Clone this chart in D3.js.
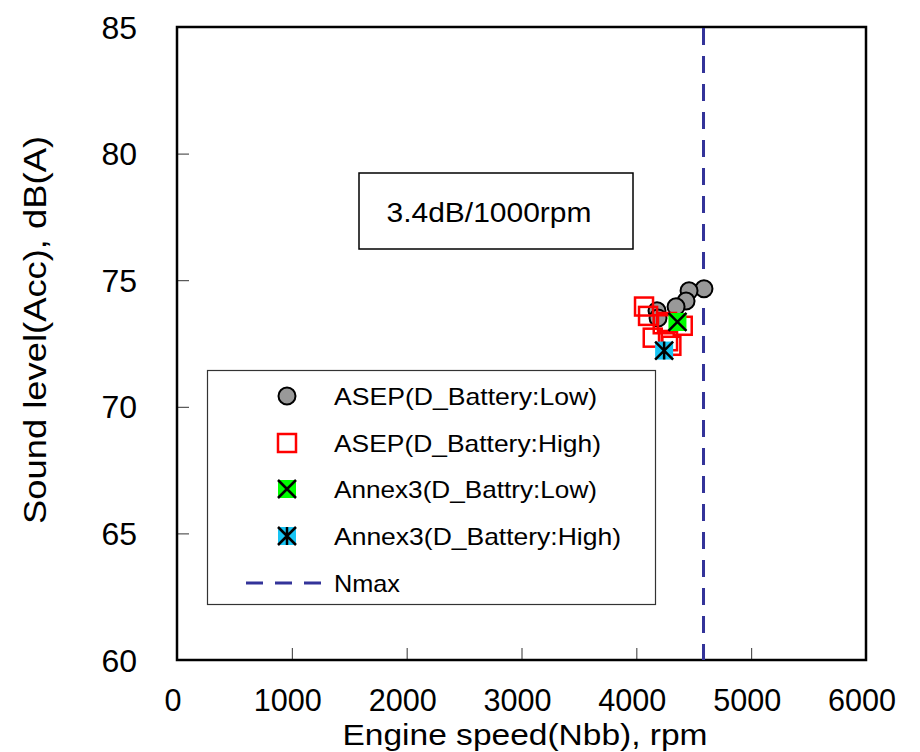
<!DOCTYPE html>
<html>
<head>
<meta charset="utf-8">
<script src="https://cdn.jsdelivr.net/npm/d3@7"></script>
<style>
  html, body { margin: 0; padding: 0; background: #fff; }
  svg { display: block; }
  text { font-family: "Liberation Sans", Arial, sans-serif; fill: #000; }
</style>
</head>
<body>
<svg id="chart" width="920" height="752"></svg>
<script>
// Engine speed (rpm) and sound level dB(A) per test series
const aseplowRpm = [4589, 4459, 4433, 4346, 4180, 4189];
const aseplowDb  = [74.66, 74.58, 74.18, 73.95, 73.79, 73.51];
const asephighRpm = [4067, 4102, 4143, 4230, 4276, 4305, 4404, 4267];
const asephighDb  = [73.96, 73.59, 72.73, 73.26, 72.59, 72.41, 73.20, 73.35];
const annexLowRpm = [4358];
const annexLowDb  = [73.35];
const annexHighRpm = [4242];
const annexHighDb  = [72.22];
const nmaxRpm = 4585;

const xTicks = [0, 1000, 2000, 3000, 4000, 5000, 6000];
const yTicks = [60, 65, 70, 75, 80, 85];
const legendLabels = [
  "ASEP(D_Battery:Low)",
  "ASEP(D_Battery:High)",
  "Annex3(D_Battry:Low)",
  "Annex3(D_Battery:High)",
  "Nmax"
];
const slopeNote = "3.4dB/1000rpm";

const svg = d3.select("#chart");
const plot = { left: 177, top: 27, right: 866, bottom: 660 };

const x = d3.scaleLinear().domain([0, 6000]).range([plot.left, plot.right]);
const y = d3.scaleLinear().domain([60, 85]).range([plot.bottom, plot.top]);

// inner ticks
const xAxis = d3.axisBottom(x).tickValues(xTicks.slice(1, -1)).tickSizeInner(-12).tickSizeOuter(0).tickFormat("");
const yAxis = d3.axisLeft(y).tickValues(yTicks.slice(1, -1)).tickSizeInner(-12).tickSizeOuter(0).tickFormat("");

svg.append("g").attr("transform", `translate(0,${plot.bottom})`).call(xAxis)
  .call(g => g.select(".domain").remove())
  .call(g => g.selectAll("line").attr("stroke", "#333").attr("stroke-width", 1));
svg.append("g").attr("transform", `translate(${plot.left},0)`).call(yAxis)
  .call(g => g.select(".domain").remove())
  .call(g => g.selectAll("line").attr("stroke", "#333").attr("stroke-width", 1));

// tick labels
svg.append("g").selectAll("text").data(xTicks).join("text")
  .attr("x", d => x(d) - 4)
  .attr("y", 711)
  .attr("text-anchor", "middle")
  .attr("font-size", 31)
  .attr("textLength", d => String(d).length * 17)
  .attr("lengthAdjust", "spacingAndGlyphs")
  .text(d => d);

svg.append("g").selectAll("text").data(yTicks).join("text")
  .attr("x", 137)
  .attr("y", d => y(d))
  .attr("dy", "0.36em")
  .attr("text-anchor", "end")
  .attr("font-size", 32)
  .text(d => d);

// axis titles
svg.append("text")
  .attr("x", 525).attr("y", 745)
  .attr("text-anchor", "middle")
  .attr("font-size", 29)
  .attr("textLength", 365)
  .attr("lengthAdjust", "spacingAndGlyphs")
  .text("Engine speed(Nbb), rpm");

svg.append("text")
  .attr("transform", "translate(46,330) rotate(-90)")
  .attr("text-anchor", "middle")
  .attr("font-size", 32)
  .attr("textLength", 388)
  .attr("lengthAdjust", "spacingAndGlyphs")
  .text("Sound level(Acc), dB(A)");

// plot frame
svg.append("rect")
  .attr("x", plot.left).attr("y", plot.top)
  .attr("width", plot.right - plot.left).attr("height", plot.bottom - plot.top)
  .attr("fill", "none").attr("stroke", "#000").attr("stroke-width", 2.5);

// Nmax line
svg.append("line")
  .attr("x1", x(nmaxRpm)).attr("x2", x(nmaxRpm))
  .attr("y1", y(85) + 1).attr("y2", y(60))
  .attr("stroke", "#333399").attr("stroke-width", 3)
  .attr("stroke-dasharray", "17,11");

// annotation box
svg.append("rect")
  .attr("x", 359).attr("y", 173).attr("width", 274).attr("height", 76)
  .attr("fill", "#fff").attr("stroke", "#000").attr("stroke-width", 1.5);
svg.append("text")
  .attr("x", 489).attr("y", 212).attr("dy", "0.36em")
  .attr("text-anchor", "middle")
  .attr("font-size", 28)
  .attr("textLength", 205)
  .attr("lengthAdjust", "spacingAndGlyphs")
  .text(slopeNote);

// marker drawing helpers
const MS = 18;
function circleMark(g, cx, cy) {
  g.append("circle").attr("cx", cx).attr("cy", cy).attr("r", 8.5)
    .attr("fill", "#999").attr("stroke", "#000").attr("stroke-width", 2);
}
function squareMark(g, cx, cy) {
  g.append("rect").attr("x", cx - MS / 2).attr("y", cy - MS / 2)
    .attr("width", MS).attr("height", MS)
    .attr("fill", "none").attr("stroke", "#ff0000").attr("stroke-width", 2.5);
}
function crossMark(g, cx, cy, fill, star) {
  const h = MS / 2;
  g.append("rect").attr("x", cx - h).attr("y", cy - h).attr("width", MS).attr("height", MS)
    .attr("fill", fill).attr("stroke", "none");
  const p = `M${cx - h},${cy - h}L${cx + h},${cy + h}M${cx + h},${cy - h}L${cx - h},${cy + h}` +
    (star ? `M${cx},${cy - h}L${cx},${cy + h}` : "");
  g.append("path").attr("d", p).attr("stroke", "#000").attr("stroke-width", 2.5).attr("fill", "none");
}

const marks = svg.append("g");
aseplowRpm.forEach((r, i) => circleMark(marks, x(r), y(aseplowDb[i])));
asephighRpm.forEach((r, i) => squareMark(marks, x(r), y(asephighDb[i])));
annexLowRpm.forEach((r, i) => crossMark(marks, x(r), y(annexLowDb[i]), "#00ff00", false));
annexHighRpm.forEach((r, i) => crossMark(marks, x(r), y(annexHighDb[i]), "#18c4f4", true));

// legend
const lg = svg.append("g");
lg.append("rect").attr("x", 207.5).attr("y", 370.5).attr("width", 448).attr("height", 234)
  .attr("fill", "#fff").attr("stroke", "#333").attr("stroke-width", 1.2);
const rowY = [396, 443, 489, 536, 583];
const mx = 287;
circleMark(lg, mx, rowY[0]);
squareMark(lg, mx, rowY[1]);
crossMark(lg, mx, rowY[2], "#00ff00", false);
crossMark(lg, mx, rowY[3], "#18c4f4", true);
lg.append("line").attr("x1", 246).attr("x2", 321).attr("y1", rowY[4]).attr("y2", rowY[4])
  .attr("stroke", "#333399").attr("stroke-width", 3).attr("stroke-dasharray", "17,12");
const legendWidths = [263, 267, 263, 287, 66];
lg.selectAll("text.lab").data(legendLabels).join("text")
  .attr("class", "lab")
  .attr("x", 334)
  .attr("y", (d, i) => rowY[i])
  .attr("dy", "0.36em")
  .attr("font-size", 24)
  .attr("textLength", (d, i) => legendWidths[i])
  .attr("lengthAdjust", "spacingAndGlyphs")
  .text(d => d);
</script>
</body>
</html>
